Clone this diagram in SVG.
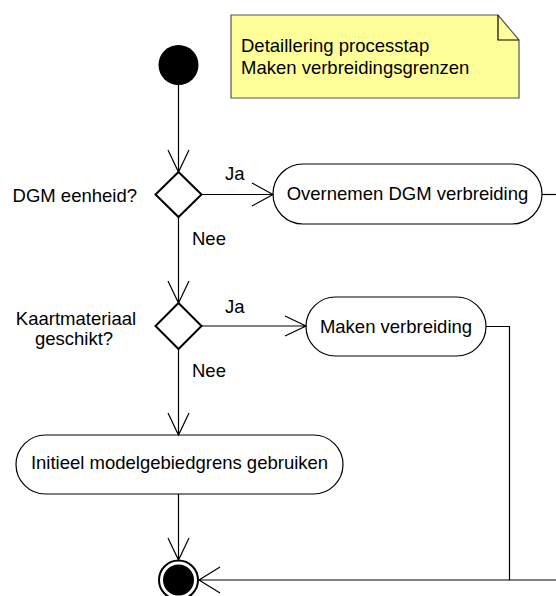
<svg xmlns="http://www.w3.org/2000/svg" width="556" height="596" viewBox="0 0 556 596">
<style>
text{font-family:"Liberation Sans",Arial,sans-serif;font-size:18.5px;fill:#000}
.box{fill:#fff;stroke:#000;stroke-width:1.2}
.dia{fill:#fff;stroke:#000;stroke-width:2}
.ln{fill:none;stroke:#000;stroke-width:1.2}
</style>
<rect width="556" height="596" fill="#fff"/>
<g id="note">
<path d="M231,15 H498 L519,40 V98 H231 Z" fill="#ffff99" stroke="#555" stroke-width="1.2"/>
<path d="M498,15 V40 H519" fill="none" stroke="#000" stroke-width="1.2"/>
<text x="241" y="52">Detaillering processtap</text>
<text x="241" y="74">Maken verbreidingsgrenzen</text>
</g>
<g id="start"><circle cx="178.5" cy="65" r="20" fill="#000"/></g>
<g id="d1">
<polygon class="dia" points="178.5,172 201.5,194.5 178.5,217 155.5,194.5"/>
<text x="137" y="202" text-anchor="end">DGM eenheid?</text>
</g>
<g id="a1">
<rect class="box" x="273" y="164" width="269" height="60" rx="30"/>
<text x="407.5" y="200" text-anchor="middle">Overnemen DGM verbreiding</text>
</g>
<g id="d2">
<polygon class="dia" points="178.5,303 201.5,326 178.5,349 155.5,326"/>
<text x="76" y="325" text-anchor="middle">Kaartmateriaal</text>
<text x="74" y="345" text-anchor="middle">geschikt?</text>
</g>
<g id="a2">
<rect class="box" x="306" y="297" width="180" height="59" rx="29.5"/>
<text x="396" y="333" text-anchor="middle">Maken verbreiding</text>
</g>
<g id="a3">
<rect class="box" x="16" y="435" width="327" height="59" rx="29.5"/>
<text x="179.5" y="469" text-anchor="middle">Initieel modelgebiedgrens gebruiken</text>
</g>
<g id="end">
<circle cx="178.5" cy="580" r="19.5" fill="#fff" stroke="#000" stroke-width="2"/>
<circle cx="178.5" cy="580" r="15.5" fill="#000"/>
</g>
<g id="connectors">
<path class="ln" d="M178.5,85 V172 M168,150 L178.5,172 L189,150"/>
<path class="ln" d="M201.5,194.5 H273 M252,183 L273,194.5 L252,206"/>
<text x="225" y="180">Ja</text>
<path class="ln" d="M178.5,217 V303 M168,281 L178.5,303 L189,281"/>
<text x="192" y="245">Nee</text>
<path class="ln" d="M542,194.5 H556"/>
<path class="ln" d="M201.5,326 H306 M285,316 L306,326 L285,336"/>
<text x="225" y="313">Ja</text>
<path class="ln" d="M178.5,349 V435 M168,413 L178.5,435 L189,413"/>
<text x="192" y="377">Nee</text>
<path class="ln" d="M486,326.5 H509.5 V580"/>
<path class="ln" d="M178.5,494 V560 M168,538 L178.5,560 L189,538"/>
<path class="ln" d="M556,580 H199 M220,567 L199,580 L220,593"/>
</g>
</svg>
